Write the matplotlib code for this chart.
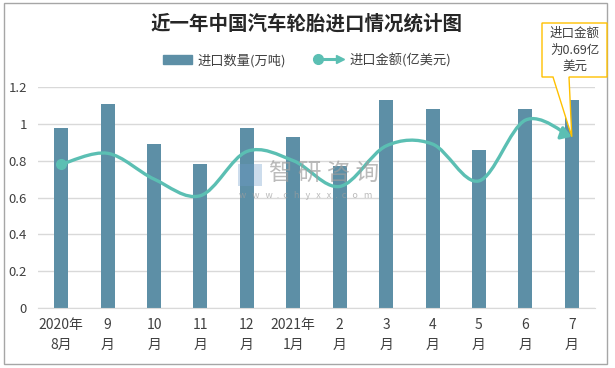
import matplotlib
matplotlib.use('Agg')
import matplotlib.pyplot as plt
from matplotlib.path import Path
from matplotlib.patches import FancyArrowPatch, Patch, Polygon, Rectangle
from matplotlib.legend_handler import HandlerBase
from matplotlib.lines import Line2D

plt.rcParams['font.family'] = ['Noto Sans CJK SC', 'DejaVu Sans']

months = ['2020年\n8月', '9\n月', '10\n月', '11\n月', '12\n月', '2021年\n1月',
          '2\n月', '3\n月', '4\n月', '5\n月', '6\n月', '7\n月']
volume = [0.98, 1.11, 0.89, 0.78, 0.98, 0.93, 0.77, 1.13, 1.08, 0.86, 1.08, 1.13]
value = [0.78, 0.84, 0.70, 0.61, 0.85, 0.80, 0.66, 0.88, 0.89, 0.69, 1.02, 0.93]
yticks = [0, 0.2, 0.4, 0.6, 0.8, 1, 1.2]
ytick_labels = ['0', '0.2', '0.4', '0.6', '0.8', '1', '1.2']

bar_color = '#5D8FA6'
line_color = '#5BBFB3'
text_color = '#404040'
W, H = 615, 368


def smooth_path(xs, ys):
    # catmull-rom style bezier, like excel's smoothed line
    pts = list(zip(xs, ys))
    verts = [pts[0]]
    codes = [Path.MOVETO]
    n = len(pts)
    for i in range(n - 1):
        p0 = pts[i - 1] if i > 0 else pts[i]
        p1 = pts[i]
        p2 = pts[i + 1]
        p3 = pts[i + 2] if i + 2 < n else pts[i + 1]
        c1 = (p1[0] + (p2[0] - p0[0]) / 6, p1[1] + (p2[1] - p0[1]) / 6)
        c2 = (p2[0] - (p3[0] - p1[0]) / 6, p2[1] - (p3[1] - p1[1]) / 6)
        verts += [c1, c2, p2]
        codes += [Path.CURVE4] * 3
    return Path(verts, codes)


class ArrowLineHandler(HandlerBase):
    def create_artists(self, legend, orig_handle, xdescent, ydescent,
                       width, height, fontsize, trans):
        y = height / 2 - ydescent
        ln = Line2D([0, width - 4], [y, y], color=line_color, lw=2.2, transform=trans)
        dot = Line2D([2], [y], marker='o', markersize=7, color=line_color, transform=trans)
        tip = Line2D([width - 3], [y], marker='>', markersize=6, color=line_color, transform=trans)
        return [ln, dot, tip]


fig = plt.figure(figsize=(W / 100, H / 100), dpi=100)
ax = fig.add_axes([38 / W, 1 - 308 / H, 557 / W, 221 / H])

x = list(range(len(months)))
ax.bar(x, volume, width=0.3, color=bar_color, zorder=2)

curve = smooth_path(x, value)
arrow = FancyArrowPatch(path=curve, arrowstyle='-|>,head_length=0.55,head_width=0.35',
                        mutation_scale=11, color=line_color, lw=2.4, zorder=3)
ax.add_patch(arrow)
ax.plot([x[0]], [value[0]], marker='o', markersize=7, color=line_color, zorder=4)

ax.set_xlim(-0.5, len(months) - 0.5)
ax.set_ylim(0, 1.2)
ax.set_yticks(yticks)
ax.set_yticklabels(ytick_labels)
ax.set_xticks(x)
ax.set_xticklabels(months, linespacing=1.6)
ax.tick_params(axis='both', length=0, colors=text_color, labelsize=9.5)
ax.tick_params(axis='x', pad=7, labelsize=10)
ax.tick_params(axis='y', pad=8)
ax.grid(axis='y', color='#D9D9D9', lw=1, zorder=0)
ax.set_axisbelow(True)
for s in ['top', 'right', 'left']:
    ax.spines[s].set_visible(False)
ax.spines['bottom'].set_color('#D9D9D9')

fig.text(307 / W, 1 - 24 / H, '近一年中国汽车轮胎进口情况统计图', ha='center', va='center',
         fontsize=14, fontweight='bold', color='#262626')

handles = [Patch(color=bar_color), Line2D([], [], color=line_color)]
fig.legend(handles, ['进口数量(万吨)', '进口金额(亿美元)'], loc='center',
           bbox_to_anchor=(307 / W, 1 - 60 / H), ncol=2, frameon=False,
           fontsize=9.5, handlelength=2.2, handleheight=0.6, columnspacing=2.2,
           handletextpad=0.4, labelcolor=text_color,
           handler_map={Line2D: ArrowLineHandler()})

# watermark
fig.text(269 / W, 1 - 174 / H, '智 研 咨 询', fontsize=17, color='#9E9E9E', alpha=0.7,
         va='center', ha='left', zorder=5)
fig.text(239 / W, 1 - 195 / H, 'w   w   w  .  c   h   y   x   x  .  c   o   m', fontsize=6.5,
         color='#9E9E9E', alpha=0.7, va='center', ha='left', zorder=5)
fig.patches.append(Rectangle((238 / W, 1 - 186 / H), 24 / W, 22 / H, transform=fig.transFigure,
                             facecolor='#6F9BC9', alpha=0.35, lw=0, zorder=5))

# callout box pointing at last value
fig.canvas.draw()
tip_px = ax.transData.transform((x[-1], value[-1]))
tx, ty = tip_px[0] / W, tip_px[1] / H
l, r, t, b = 542 / W, 607 / W, 1 - 23 / H, 1 - 77 / H
box = Polygon([(l, t), (r, t), (r, b), (569 / W, b), (tx, ty), (553 / W, b), (l, b)],
              closed=True, transform=fig.transFigure, facecolor='white',
              edgecolor='#FFC000', lw=1, zorder=10)
fig.patches.append(box)
fig.text((l + r) / 2, (t + b) / 2, '进口金额\n为0.69亿\n美元', ha='center', va='center',
         fontsize=9, color=text_color, linespacing=1.35, zorder=11)

frame = Rectangle((4 / W, 4 / H), 603 / W, 361 / H, transform=fig.transFigure,
                  fill=False, edgecolor='#A6A6A6', lw=1)
fig.patches.append(frame)

fig.savefig('out.png', dpi=100)
